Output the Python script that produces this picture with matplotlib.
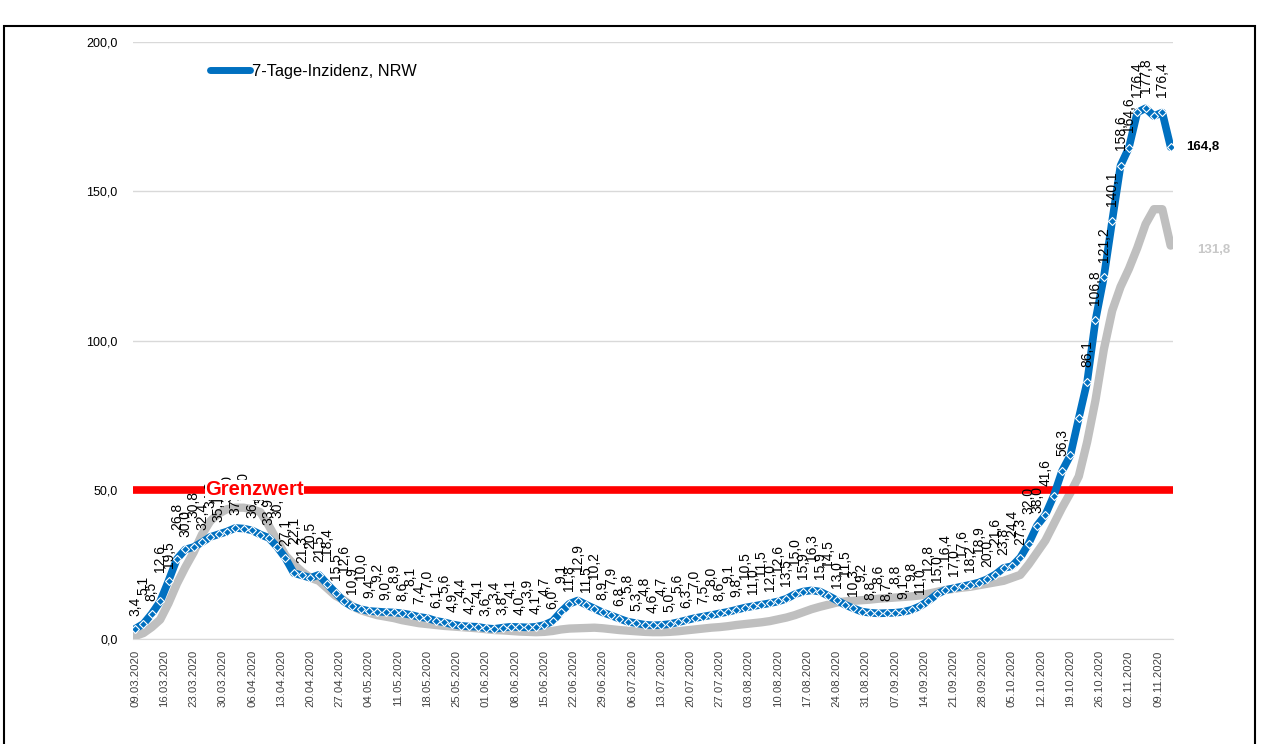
import matplotlib
matplotlib.use("Agg")
import matplotlib.pyplot as plt
from matplotlib.patches import Rectangle
from matplotlib.lines import Line2D
import numpy as np
import datetime as dt

plt.rcParams['font.family'] = ['Liberation Sans', 'DejaVu Sans']

# Werte alle 2 Tage ab 09.03.2020 bis 12.11.2020
start = dt.date(2020, 3, 9)
step_days = 2

inzidenz_nrw = [
    3.4, 5.1, 8.5, 12.6, 19.5, 26.8, 30.0, 30.8, 32.4, 34.2,
    35.1, 36.0, 37.2, 37.0, 36.4, 35.0, 33.9, 30.9, 27.1, 22.1,
    21.3, 20.5, 21.5, 18.4, 15.5, 12.6, 10.9, 10.0, 9.4, 9.2,
    9.0, 8.9, 8.6, 8.1, 7.4, 7.0, 6.1, 5.6, 4.9, 4.4,
    4.2, 4.1, 3.6, 3.4, 3.8, 4.1, 4.0, 3.9, 4.1, 4.7,
    6.0, 9.1, 11.8, 12.9, 11.5, 10.2, 8.9, 7.9, 6.8, 5.8,
    5.3, 4.8, 4.6, 4.7, 5.0, 5.6, 6.3, 7.0, 7.5, 8.0,
    8.6, 9.1, 9.8, 10.5, 11.0, 11.5, 12.0, 12.6, 13.5, 15.0,
    15.9, 16.3, 15.9, 14.5, 13.0, 11.5, 10.3, 9.2, 8.8, 8.6,
    8.7, 8.8, 9.1, 9.8, 11.0, 12.8, 15.0, 16.4, 17.0, 17.6,
    18.2, 18.9, 20.0, 21.6, 23.8, 24.4, 27.3, 32.0, 38.0, 41.6,
    48.0, 56.3, 61.6, 74.0, 86.1, 106.8, 121.2, 140.1, 158.6, 164.6,
    176.4, 177.8, 175.2, 176.4, 164.8,
]

inzidenz_vergleich = [
    1.0, 2.0, 4.0, 6.5, 12.0, 18.5, 24.0, 29.0, 35.0, 39.5,
    42.0, 43.5, 44.0, 44.0, 43.5, 42.5, 38.0, 33.0, 28.0, 25.0,
    22.5, 20.5, 19.5, 17.0, 14.5, 13.0, 11.0, 9.7, 8.8, 8.0,
    7.5, 7.0, 6.3, 5.8, 5.3, 5.0, 4.7, 4.4, 4.2, 4.0,
    3.8, 3.6, 3.3, 3.0, 2.9, 2.7, 2.5, 2.4, 2.3, 2.4,
    2.7, 3.2, 3.5, 3.6, 3.7, 3.8, 3.6, 3.3, 3.0, 2.8,
    2.6, 2.4, 2.3, 2.3, 2.4, 2.6, 2.9, 3.2, 3.5, 3.8,
    4.0, 4.3, 4.7, 5.0, 5.3, 5.6, 6.0, 6.6, 7.2, 8.0,
    9.0, 10.0, 10.8, 11.5, 12.2, 12.6, 12.8, 13.0, 13.2, 13.5,
    13.7, 13.9, 14.1, 14.3, 14.6, 15.2, 15.8, 16.4, 16.8, 17.2,
    17.5, 18.0, 18.5, 19.0, 19.5, 20.5, 21.5, 25.0, 29.0, 33.0,
    38.5, 44.0, 49.0, 54.5, 66.0, 80.0, 97.0, 110.0, 118.0, 124.0,
    131.0, 139.0, 144.0, 144.0, 131.8,
]

# Punkte ohne Datenbeschriftung
ohne_label = [110, 112, 113, 122]

grenzwert = 50.0
y_ticks = [0, 50, 100, 150, 200]

BLAU = '#0070C0'
GRAU = '#BFBFBF'

def komma(v):
    return f"{v:.1f}".replace('.', ',')

tage = np.arange(len(inzidenz_nrw)) * step_days
tick_tage = np.arange(0, tage[-1], 7)
tick_labels = [(start + dt.timedelta(days=int(t))).strftime('%d.%m.%Y') for t in tick_tage]

fig = plt.figure(figsize=(12.61, 7.44), dpi=100)
ax = fig.add_axes([0.1055, 0.1411, 0.8245, 0.8024])

# Rahmen um die Grafik
fig.patches.append(Rectangle((0.003, -0.02), 0.992, 0.985, transform=fig.transFigure,
                             fill=False, edgecolor='black', linewidth=1.5))

ax.plot(tage, inzidenz_vergleich, color=GRAU, linewidth=6, solid_capstyle='round', zorder=2)
ax.axhline(grenzwert, color='#FF0000', linewidth=5.5, zorder=3)
ax.plot(tage, inzidenz_nrw, color=BLAU, linewidth=5.5, solid_capstyle='round',
        marker='D', markersize=4.5, markerfacecolor=BLAU, markeredgecolor='white',
        markeredgewidth=0.8, zorder=4)

# Datenbeschriftungen (im flachen Bereich zweireihig)
for i, (t, v) in enumerate(zip(tage[:-1], inzidenz_nrw[:-1])):
    if i in ohne_label:
        continue
    off = 9 if i % 2 == 0 else 21
    if v > 45:
        off = 11
    ax.annotate(komma(v), (t, v), xytext=(0, off), textcoords='offset points',
                rotation=90, ha='center', va='bottom', fontsize=10, color='black', zorder=5)

ax.annotate(komma(inzidenz_nrw[-1]), (tage[-1], inzidenz_nrw[-1]), xytext=(11, 0),
            textcoords='offset points', ha='left', va='center', fontsize=9.5,
            fontweight='bold', color='black', annotation_clip=False)
ax.annotate(komma(inzidenz_vergleich[-1]), (tage[-1], inzidenz_vergleich[-1]), xytext=(19, -3),
            textcoords='offset points', ha='left', va='center', fontsize=9.5,
            fontweight='bold', color='#C8C8C8', annotation_clip=False)

ax.text(28.6, grenzwert, 'Grenzwert', color='#FF0000', fontsize=14.5, fontweight='bold',
        ha='center', va='center', zorder=6,
        bbox=dict(facecolor='white', edgecolor='none', pad=0.5))

ax.set_ylim(0, 200)
ax.set_xlim(-0.5, tage[-1] + 0.5)
ax.set_yticks(y_ticks)
ax.set_yticklabels([komma(v) for v in y_ticks], fontsize=9)
ax.set_xticks(tick_tage)
ax.set_xticklabels(tick_labels, rotation=90, fontsize=8.2, color='#404040')
ax.tick_params(length=0, pad=8)
ax.tick_params(axis='y', pad=11)
ax.grid(axis='y', color='#D9D9D9', linewidth=1)
ax.set_axisbelow(True)
for s in ['top', 'right', 'left']:
    ax.spines[s].set_visible(False)
ax.spines['bottom'].set_color('#D9D9D9')

handle = Line2D([0], [0], color=BLAU, linewidth=5, solid_capstyle='round')
ax.legend([handle], ['7-Tage-Inzidenz, NRW'], loc='upper left', bbox_to_anchor=(0.068, 0.975),
          frameon=False, fontsize=11.8, handlelength=2.4, handletextpad=0.15,
          borderaxespad=0)

fig.savefig('out.png', dpi=100)
